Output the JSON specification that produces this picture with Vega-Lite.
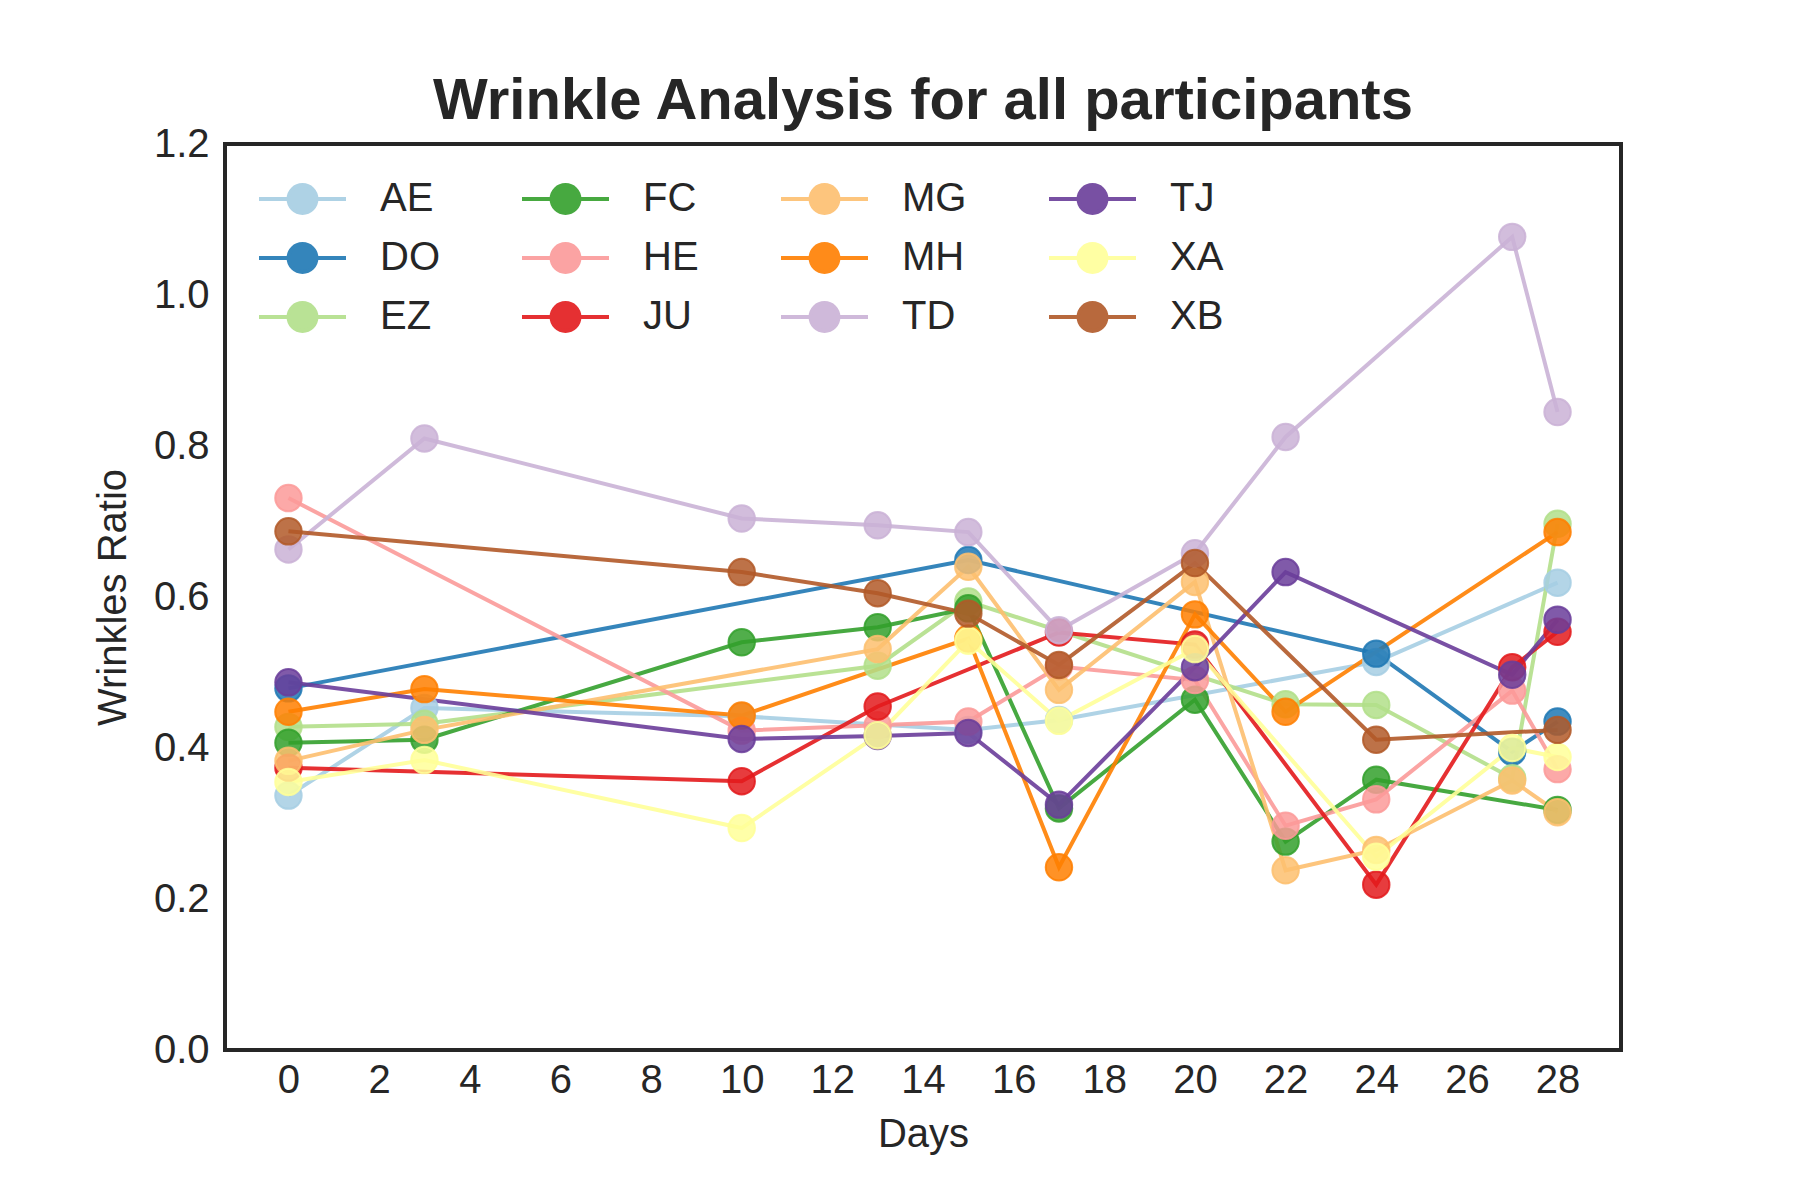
{
  "$schema": "https://vega.github.io/schema/vega-lite/v6.json",
  "width": 1396,
  "height": 906,
  "autosize": {"type": "none"},
  "padding": {"left": 225, "top": 144, "right": 179, "bottom": 150},
  "background": "white",
  "title": {
    "text": "Wrinkle Analysis for all participants",
    "fontSize": 58,
    "font": "Liberation Sans",
    "fontWeight": "bold",
    "color": "#262626",
    "anchor": "middle",
    "frame": "group",
    "baseline": "alphabetic",
    "offset": 24,
    "dy": 77
  },
  "config": {
    "view": {"stroke": "#262626", "strokeWidth": 4},
    "font": "Liberation Sans"
  },
  "data": {
    "values": [
      {"p": "AE", "day": 0, "r": 0.337}, {"p": "AE", "day": 3, "r": 0.453}, {"p": "AE", "day": 10, "r": 0.442}, {"p": "AE", "day": 15, "r": 0.424}, {"p": "AE", "day": 17, "r": 0.437}, {"p": "AE", "day": 24, "r": 0.514}, {"p": "AE", "day": 28, "r": 0.619},
      {"p": "DO", "day": 0, "r": 0.479}, {"p": "DO", "day": 15, "r": 0.649}, {"p": "DO", "day": 24, "r": 0.525}, {"p": "DO", "day": 27, "r": 0.395}, {"p": "DO", "day": 28, "r": 0.435},
      {"p": "EZ", "day": 0, "r": 0.428}, {"p": "EZ", "day": 3, "r": 0.432}, {"p": "EZ", "day": 13, "r": 0.509}, {"p": "EZ", "day": 15, "r": 0.594}, {"p": "EZ", "day": 22, "r": 0.458}, {"p": "EZ", "day": 24, "r": 0.457}, {"p": "EZ", "day": 27, "r": 0.36}, {"p": "EZ", "day": 28, "r": 0.697},
      {"p": "FC", "day": 0, "r": 0.407}, {"p": "FC", "day": 3, "r": 0.411}, {"p": "FC", "day": 10, "r": 0.54}, {"p": "FC", "day": 13, "r": 0.56}, {"p": "FC", "day": 15, "r": 0.585}, {"p": "FC", "day": 17, "r": 0.32}, {"p": "FC", "day": 20, "r": 0.464}, {"p": "FC", "day": 22, "r": 0.276}, {"p": "FC", "day": 24, "r": 0.358}, {"p": "FC", "day": 28, "r": 0.318},
      {"p": "HE", "day": 0, "r": 0.731}, {"p": "HE", "day": 10, "r": 0.423}, {"p": "HE", "day": 13, "r": 0.43}, {"p": "HE", "day": 15, "r": 0.435}, {"p": "HE", "day": 17, "r": 0.508}, {"p": "HE", "day": 20, "r": 0.49}, {"p": "HE", "day": 22, "r": 0.297}, {"p": "HE", "day": 24, "r": 0.332}, {"p": "HE", "day": 27, "r": 0.476}, {"p": "HE", "day": 28, "r": 0.372},
      {"p": "JU", "day": 0, "r": 0.374}, {"p": "JU", "day": 10, "r": 0.356}, {"p": "JU", "day": 13, "r": 0.455}, {"p": "JU", "day": 17, "r": 0.553}, {"p": "JU", "day": 20, "r": 0.537}, {"p": "JU", "day": 24, "r": 0.219}, {"p": "JU", "day": 27, "r": 0.507}, {"p": "JU", "day": 28, "r": 0.554},
      {"p": "MG", "day": 0, "r": 0.383}, {"p": "MG", "day": 3, "r": 0.424}, {"p": "MG", "day": 13, "r": 0.531}, {"p": "MG", "day": 15, "r": 0.64}, {"p": "MG", "day": 17, "r": 0.477}, {"p": "MG", "day": 20, "r": 0.62}, {"p": "MG", "day": 22, "r": 0.238}, {"p": "MG", "day": 24, "r": 0.265}, {"p": "MG", "day": 27, "r": 0.357}, {"p": "MG", "day": 28, "r": 0.315},
      {"p": "MH", "day": 0, "r": 0.448}, {"p": "MH", "day": 3, "r": 0.478}, {"p": "MH", "day": 10, "r": 0.443}, {"p": "MH", "day": 15, "r": 0.545}, {"p": "MH", "day": 17, "r": 0.242}, {"p": "MH", "day": 20, "r": 0.577}, {"p": "MH", "day": 22, "r": 0.448}, {"p": "MH", "day": 28, "r": 0.686},
      {"p": "TD", "day": 0, "r": 0.663}, {"p": "TD", "day": 3, "r": 0.81}, {"p": "TD", "day": 10, "r": 0.704}, {"p": "TD", "day": 13, "r": 0.695}, {"p": "TD", "day": 15, "r": 0.686}, {"p": "TD", "day": 17, "r": 0.556}, {"p": "TD", "day": 20, "r": 0.658}, {"p": "TD", "day": 22, "r": 0.812}, {"p": "TD", "day": 27, "r": 1.077}, {"p": "TD", "day": 28, "r": 0.845},
      {"p": "TJ", "day": 0, "r": 0.487}, {"p": "TJ", "day": 10, "r": 0.412}, {"p": "TJ", "day": 13, "r": 0.416}, {"p": "TJ", "day": 15, "r": 0.42}, {"p": "TJ", "day": 17, "r": 0.325}, {"p": "TJ", "day": 20, "r": 0.507}, {"p": "TJ", "day": 22, "r": 0.633}, {"p": "TJ", "day": 27, "r": 0.497}, {"p": "TJ", "day": 28, "r": 0.57},
      {"p": "XA", "day": 0, "r": 0.355}, {"p": "XA", "day": 3, "r": 0.384}, {"p": "XA", "day": 10, "r": 0.294}, {"p": "XA", "day": 13, "r": 0.417}, {"p": "XA", "day": 15, "r": 0.542}, {"p": "XA", "day": 17, "r": 0.436}, {"p": "XA", "day": 20, "r": 0.531}, {"p": "XA", "day": 24, "r": 0.256}, {"p": "XA", "day": 27, "r": 0.4}, {"p": "XA", "day": 28, "r": 0.388},
      {"p": "XB", "day": 0, "r": 0.687}, {"p": "XB", "day": 10, "r": 0.633}, {"p": "XB", "day": 13, "r": 0.605}, {"p": "XB", "day": 15, "r": 0.578}, {"p": "XB", "day": 17, "r": 0.51}, {"p": "XB", "day": 20, "r": 0.645}, {"p": "XB", "day": 24, "r": 0.411}, {"p": "XB", "day": 28, "r": 0.424}
    ]
  },
  "encoding": {
    "x": {
      "field": "day",
      "type": "quantitative",
      "scale": {"domain": [-1.4, 29.4], "nice": false, "zero": false},
      "axis": {
        "title": "Days",
        "values": [0, 2, 4, 6, 8, 10, 12, 14, 16, 18, 20, 22, 24, 26, 28],
        "format": "d",
        "grid": false,
        "domain": false,
        "ticks": false,
        "tickSize": 0,
        "labelFontSize": 40,
        "labelColor": "#262626",
        "labelPadding": 10,
        "labelFont": "Liberation Sans",
        "titleFont": "Liberation Sans",
        "titleFontSize": 40,
        "titleFontWeight": "normal",
        "titleColor": "#262626",
        "titlePadding": 14
      }
    },
    "y": {
      "field": "r",
      "type": "quantitative",
      "scale": {"domain": [0, 1.2], "nice": false},
      "axis": {
        "title": "Wrinkles Ratio",
        "values": [0, 0.2, 0.4, 0.6, 0.8, 1.0, 1.2],
        "format": ".1f",
        "grid": false,
        "domain": false,
        "ticks": false,
        "tickSize": 0,
        "labelFontSize": 40,
        "labelColor": "#262626",
        "labelPadding": 16,
        "labelFont": "Liberation Sans",
        "titleFont": "Liberation Sans",
        "titleFontSize": 40,
        "titleFontWeight": "normal",
        "titleColor": "#262626",
        "titlePadding": 20
      }
    },
    "color": {
      "field": "p",
      "type": "nominal",
      "scale": {
        "domain": ["AE", "DO", "EZ", "FC", "HE", "JU", "MG", "MH", "TD", "TJ", "XA", "XB"],
        "range": ["#a6cee3", "#1f78b4", "#b2df8a", "#33a02c", "#fb9a99", "#e31a1c", "#fdbf6f", "#ff7f00", "#cab2d6", "#6a3d9a", "#ffff99", "#b15928"]
      },
      "legend": {
        "title": null,
        "orient": "none",
        "legendX": 32,
        "legendY": 35,
        "columns": 4,
        "symbolType": "M-1,0L1,0M-0.32,0A0.32,0.32,0,1,0,0.32,0A0.32,0.32,0,1,0,-0.32,0Z",
        "symbolSize": 7569,
        "symbolStrokeWidth": 4,
        "labelFontSize": 40,
        "labelFont": "Liberation Sans",
        "labelColor": "#262626",
        "labelOffset": 32,
        "columnPadding": 80,
        "rowPadding": 19,
        "clipHeight": 40,
        "encode": {
          "symbols": {
            "update": {
              "fill": {"scale": "color", "field": "value"},
              "stroke": {"scale": "color", "field": "value"},
              "fillOpacity": {"value": 0.85},
              "strokeOpacity": {"value": 0.9},
              "opacity": {"value": 1}
            }
          }
        }
      }
    }
  },
  "layer": [
    {"mark": {"type": "line", "strokeWidth": 4, "opacity": 0.9}},
    {
      "mark": {"type": "point", "filled": true, "size": 700, "fillOpacity": 0.85, "strokeOpacity": 0.85, "strokeWidth": 2, "opacity": 1},
      "encoding": {
        "stroke": {
          "field": "p",
          "type": "nominal",
          "scale": {
            "domain": ["AE", "DO", "EZ", "FC", "HE", "JU", "MG", "MH", "TD", "TJ", "XA", "XB"],
            "range": ["#a6cee3", "#1f78b4", "#b2df8a", "#33a02c", "#fb9a99", "#e31a1c", "#fdbf6f", "#ff7f00", "#cab2d6", "#6a3d9a", "#ffff99", "#b15928"]
          },
          "legend": null
        }
      }
    }
  ]
}
